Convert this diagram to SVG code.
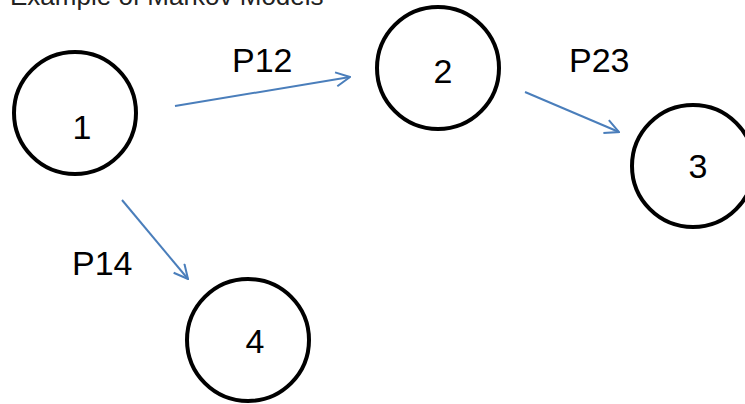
<svg xmlns="http://www.w3.org/2000/svg" width="745" height="404" viewBox="0 0 745 404">
  <style>
    .state { fill: #ffffff; stroke: #000000; stroke-width: 4; }
    .num { font-family: "Liberation Sans", Arial, sans-serif; font-size: 34px; fill: #000000; text-anchor: middle; }
    .prob { font-family: "Liberation Sans", Arial, sans-serif; font-size: 34px; fill: #000000; }
    .title { font-family: "Liberation Sans", Arial, sans-serif; font-size: 26px; fill: #222222; }
    .edge { stroke: #4a7ebb; stroke-width: 2; fill: none; marker-end: url(#open-arrow); }
  </style>
  <defs>
    <marker id="open-arrow" viewBox="0 0 16 16" refX="15" refY="8" markerWidth="16" markerHeight="16" markerUnits="userSpaceOnUse" orient="auto">
      <path d="M1,1 L15,8 L1,15" fill="none" stroke="#4a7ebb" stroke-width="2"/>
    </marker>
  </defs>
  <rect width="745" height="404" fill="#ffffff"/>

  <text class="title" x="10" y="5">Example of Markov Models</text>

  <g id="connectors">
    <line class="edge" x1="175" y1="106" x2="350" y2="77"/>
    <line class="edge" x1="525" y1="92" x2="619" y2="132"/>
    <line class="edge" x1="122" y1="200" x2="188" y2="279"/>
    <text class="prob" x="232" y="72">P12</text>
    <text class="prob" x="569" y="72">P23</text>
    <text class="prob" x="72" y="275">P14</text>
  </g>

  <g id="node-1">
    <circle class="state" cx="75" cy="113" r="61"/>
    <text class="num" x="82" y="139">1</text>
  </g>
  <g id="node-2">
    <circle class="state" cx="438" cy="68" r="61"/>
    <text class="num" x="443" y="83">2</text>
  </g>
  <g id="node-3">
    <circle class="state" cx="693" cy="166" r="61"/>
    <text class="num" x="698" y="178">3</text>
  </g>
  <g id="node-4">
    <circle class="state" cx="248" cy="340" r="61"/>
    <text class="num" x="255" y="353">4</text>
  </g>
</svg>
